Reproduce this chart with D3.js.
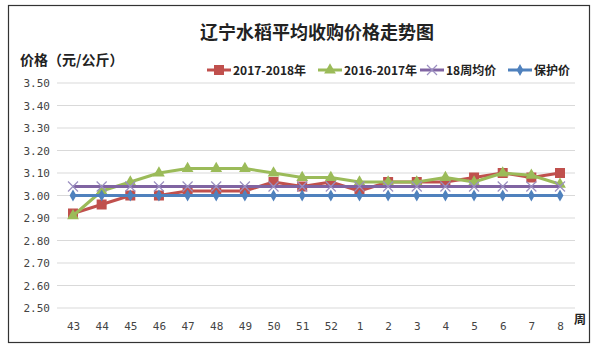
<!DOCTYPE html>
<html lang="zh">
<head>
<meta charset="UTF-8">
<title>辽宁水稻平均收购价格走势图</title>
<script src="https://d3js.org/d3.v7.min.js"></script>
<style>
  body { margin: 0; background: #fff; font-family: "Noto Sans CJK SC", sans-serif; }
  .tick text { font-family: "DejaVu Sans Mono", monospace; font-size: 11px; fill: #444; }
</style>
</head>
<body>
<div id="chart"></div>
<script>
// 周次
const weeks = ["43","44","45","46","47","48","49","50","51","52","1","2","3","4","5","6","7","8"];
// 各系列价格（元/公斤）
const price1718 = [2.92,2.96,3.00,3.00,3.02,3.02,3.02,3.06,3.04,3.06,3.02,3.06,3.06,3.06,3.08,3.10,3.08,3.10];
const price1617 = [2.91,3.02,3.06,3.10,3.12,3.12,3.12,3.10,3.08,3.08,3.06,3.06,3.06,3.08,3.06,3.10,3.09,3.05];
const avg18 = [3.04,3.04,3.04,3.04,3.04,3.04,3.04,3.04,3.04,3.04,3.04,3.04,3.04,3.04,3.04,3.04,3.04,3.04];
const protect = [3.00,3.00,3.00,3.00,3.00,3.00,3.00,3.00,3.00,3.00,3.00,3.00,3.00,3.00,3.00,3.00,3.00,3.00];
const yTicks = [2.5,2.6,2.7,2.8,2.9,3.0,3.1,3.2,3.3,3.4,3.5];

const series = [
  { name: "2017-2018年", values: price1718, color: "#C0504D", shape: "square" },
  { name: "2016-2017年", values: price1617, color: "#9BBB59", shape: "triangle" },
  { name: "18周均价", values: avg18, color: "#8064A2", shape: "cross" },
  { name: "保护价", values: protect, color: "#4F81BD", shape: "diamond" }
];

const W = 599, H = 354;
const svg = d3.select("#chart").append("svg").attr("width", W).attr("height", H);

svg.append("rect").attr("x", 8.5).attr("y", 5.5).attr("width", 581).attr("height", 337)
   .attr("fill", "#fff").attr("stroke", "#333").attr("stroke-width", 1.2);

// 坐标
const x = d3.scalePoint().domain(weeks).range([73, 560]);
const y = d3.scaleLinear().domain([2.5, 3.5]).range([308, 83]);

// 网格线
svg.append("g").selectAll("line").data(yTicks).enter().append("line")
   .attr("x1", 57).attr("x2", 575)
   .attr("y1", d => y(d)).attr("y2", d => y(d))
   .attr("stroke", "#d9d9d9").attr("stroke-width", 1);

const yAxis = svg.append("g").attr("transform", "translate(57,0)")
   .call(d3.axisLeft(y).tickValues(yTicks).tickFormat(d3.format(".2f")).tickSize(0).tickPadding(7));
yAxis.select(".domain").remove();

const xAxis = svg.append("g").attr("transform", "translate(0,318)")
   .call(d3.axisBottom(x).tickSize(0).tickPadding(4));
xAxis.select(".domain").remove();

svg.append("text").attr("x", 574).attr("y", 324).attr("font-size", 12).attr("font-weight", "bold")
   .attr("fill", "#222").text("周");

// 标题
svg.append("text").attr("x", 317).attr("y", 39).attr("text-anchor", "middle")
   .attr("font-size", 18).attr("font-weight", "bold").attr("fill", "#222")
   .text("辽宁水稻平均收购价格走势图");
svg.append("text").attr("x", 20).attr("y", 65)
   .attr("font-size", 14).attr("font-weight", "bold").attr("fill", "#222")
   .text("价格（元/公斤）");

function drawMarker(g, shape, color, cx, cy) {
  if (shape === "square") {
    g.append("rect").attr("x", cx - 5).attr("y", cy - 5).attr("width", 10).attr("height", 10).attr("fill", color);
  } else if (shape === "triangle") {
    g.append("path").attr("d", d3.symbol(d3.symbolTriangle, 60)()).attr("transform", `translate(${cx},${cy})`).attr("fill", color);
  } else if (shape === "diamond") {
    g.append("path").attr("d", d3.symbol(d3.symbolDiamond, 40)()).attr("transform", `translate(${cx},${cy})`).attr("fill", color);
  } else {
    g.append("path").attr("d", `M${cx-5},${cy-5}L${cx+5},${cy+5}M${cx-5},${cy+5}L${cx+5},${cy-5}`)
     .attr("stroke", "#9b8fc0").attr("stroke-width", 1.2).attr("fill", "none");
  }
}

const line = d3.line().x((d, i) => x(weeks[i])).y(d => y(d));

// 按图例顺序画，后面的系列在上层
series.forEach(s => {
  const g = svg.append("g");
  g.append("path").datum(s.values).attr("d", line)
   .attr("fill", "none").attr("stroke", s.color).attr("stroke-width", 3).attr("stroke-linejoin", "round");
  s.values.forEach((v, i) => drawMarker(g, s.shape, s.color, x(weeks[i]), y(v)));
});

// 图例
const legendX = [207, 318, 420, 508];
series.forEach((s, i) => {
  const g = svg.append("g");
  const lx = legendX[i], ly = 70;
  g.append("line").attr("x1", lx).attr("x2", lx + 24).attr("y1", ly).attr("y2", ly)
   .attr("stroke", s.color).attr("stroke-width", 3);
  drawMarker(g, s.shape, s.color, lx + 12, ly);
  g.append("text").attr("x", lx + 26).attr("y", ly + 4.5)
   .attr("font-size", 12).attr("font-weight", "bold").attr("fill", "#222").text(s.name);
});
</script>
</body>
</html>
